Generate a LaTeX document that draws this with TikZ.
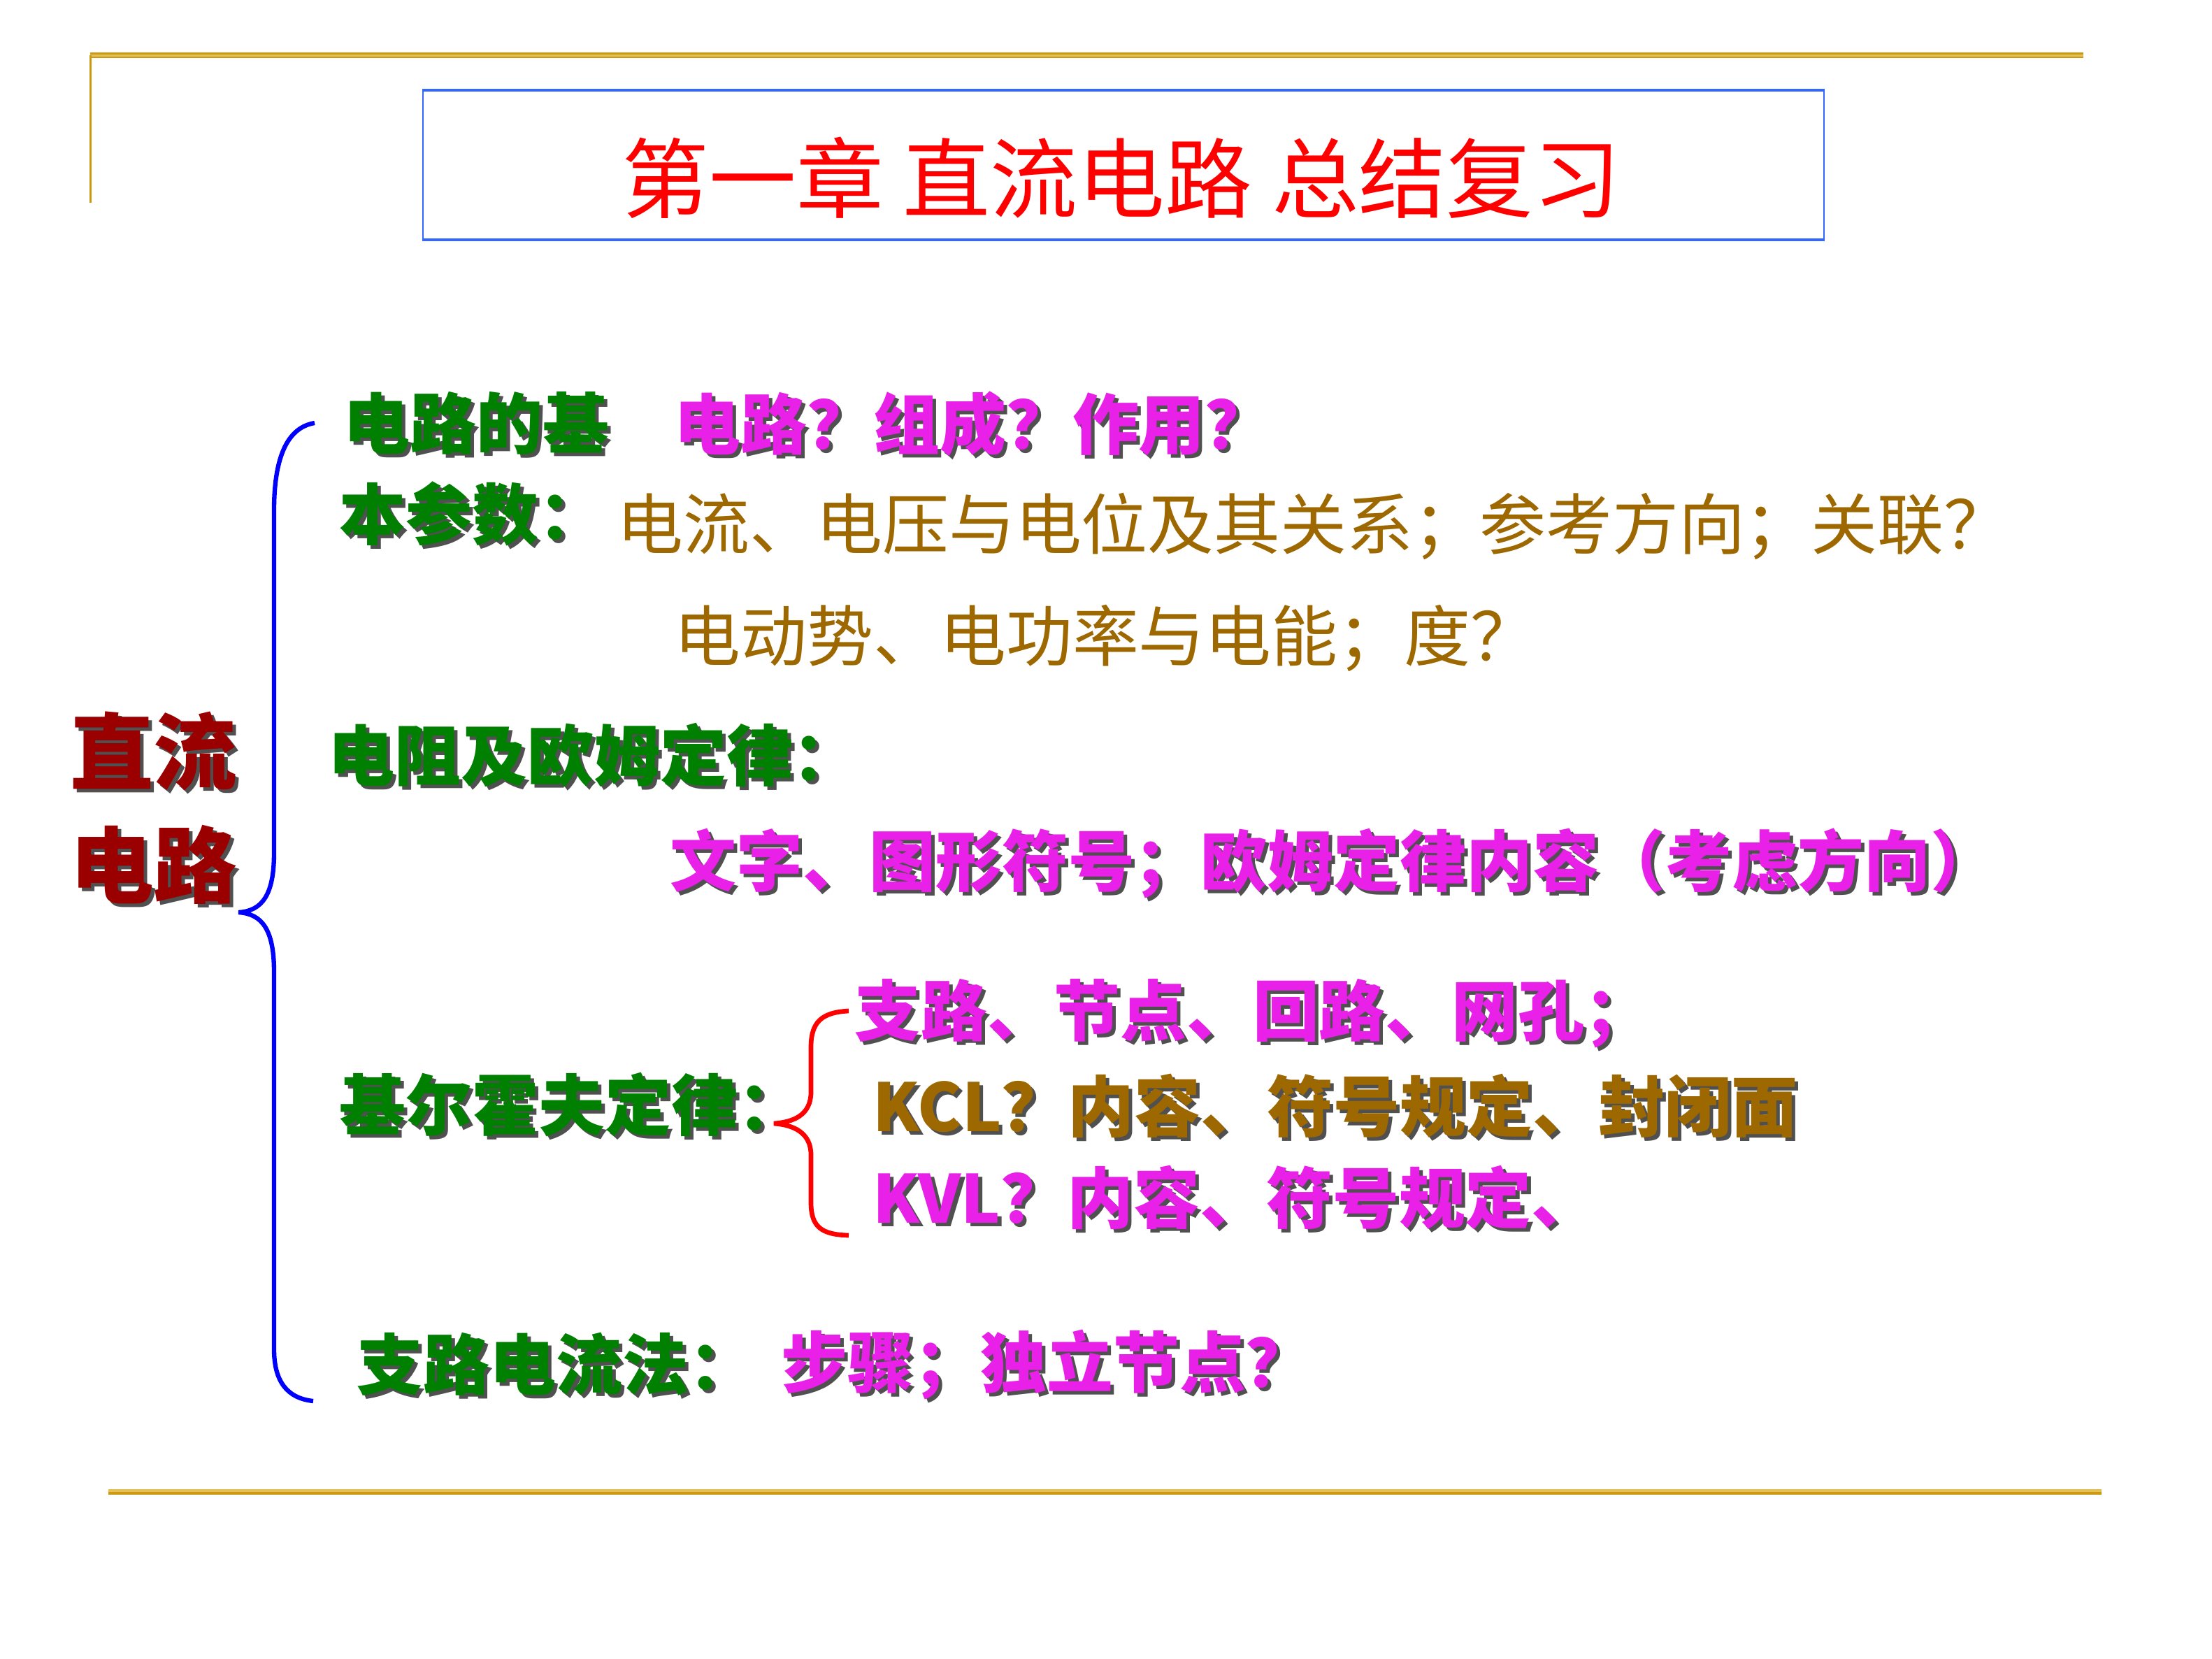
\documentclass[tikz,border=0pt]{standalone}
\usepackage{fontspec}
\setmainfont{Noto Sans CJK SC}
\definecolor{titlered}{RGB}{255,0,0}
\definecolor{headgreen}{RGB}{0,128,0}
\definecolor{askpink}{RGB}{232,32,232}
\definecolor{ochre}{RGB}{158,104,0}
\definecolor{bigred}{RGB}{155,0,0}
\definecolor{boxblue}{RGB}{51,102,255}
\definecolor{goldlight}{RGB}{228,192,88}
\definecolor{golddark}{RGB}{204,154,16}
\definecolor{shadowgray}{RGB}{80,80,80}

% text with a dark drop shadow behind it
\newcommand{\shtext}[1]{\rlap{\hspace{0.05cm}\raisebox{-0.05cm}{\textcolor{shadowgray}{#1}}}#1}

\begin{document}
\begin{tikzpicture}[
item/.style={anchor=west, inner sep=0pt, font=\fontsize{27}{32}\selectfont\bfseries},
head/.style={item, text=headgreen},
ask/.style={item, text=askpink},
law/.style={item, text=ochre},
plain/.style={anchor=west, inner sep=0pt, text=ochre, font=\fontsize{27}{32}\selectfont},
big/.style={inner sep=0pt, align=center, text=bigred, font=\fontsize{34}{46}\selectfont\bfseries},
bluebrace/.style={draw=blue, line width=1.8pt},
redbrace/.style={draw=red, line width=1.9pt},
]
\useasboundingbox (0,0) rectangle (31.64,-23.72);
\fill[white] (0,0) rectangle (31.64,-23.72);

% frame lines
\coordinate (tl) at (1.29,-0.79);
\coordinate (tr) at (29.80,-0.79);
\coordinate (vl) at (1.29,-2.90);
\coordinate (bl) at (1.55,-21.34);
\coordinate (br) at (30.06,-21.34);
\draw[golddark, line width=0.08cm] (tl) -- (tr);
\draw[goldlight, line width=0.03cm] (tl) -- (tr);
\draw[golddark, line width=0.03cm] (tl) -- (vl);
\draw[goldlight, line width=0.04cm] ([yshift=0.02cm]bl) -- ([yshift=0.02cm]br);
\draw[golddark, line width=0.04cm] ([yshift=-0.02cm]bl) -- ([yshift=-0.02cm]br);

% title
\node[draw=boxblue, line width=0.6pt, minimum width=20.04cm, minimum height=2.12cm] (titlebox) at (16.07,-2.36) {};
\draw[boxblue, line width=1.3pt] (titlebox.north west) -- (titlebox.north east);
\draw[boxblue, line width=1.3pt] (titlebox.south west) -- (titlebox.south east);
\node[text=titlered, inner sep=0pt, font=\fontsize{35.5}{40}\selectfont] (title) at (16.04,-2.54) {第一章 直流电路 总结复习};

% left topic and big brace
\node[big] (dc) at (2.20,-11.58) {\shtext{直流}\\\shtext{电路}};
\coordinate (bt) at (4.50,-6.05);
\coordinate (btip) at (3.41,-13.05);
\coordinate (bb) at (4.48,-20.04);
\draw[bluebrace] (bt) .. controls (4.08,-6.12) and (3.92,-6.60) .. (3.92,-7.30) -- (3.92,-12.20)
  .. controls (3.92,-12.80) and (3.75,-13.03) .. (btip)
  .. controls (3.75,-13.07) and (3.92,-13.30) .. (3.92,-13.90) -- (3.92,-19.30)
  .. controls (3.92,-19.75) and (4.10,-20.00) .. (bb);

% basic quantities
\node[head] (basic1) at (4.91,-6.08) {\shtext{电路的基}};
\node[head] (basic2) at (4.85,-7.37) {\shtext{本参数：}};
\node[ask] (basicq) at (9.64,-6.09) {\shtext{电路？组成？作用？}};
\node[plain] (quant1) at (8.82,-7.53) {电流、电压与电位及其关系；参考方向；关联？};
\node[plain] (quant2) at (9.64,-9.13) {电动势、电功率与电能；度？};

% resistance and Ohm
\node[head] (ohm) at (4.69,-10.83) {\shtext{电阻及欧姆定律：}};
\node[ask] (ohmq) at (9.58,-12.37) {\shtext{文字、图形符号；欧姆定律内容（考虑方向）}};

% Kirchhoff
\node[head] (kirch) at (4.85,-15.82) {\shtext{基尔霍夫定律：}};
\coordinate (rt) at (12.14,-14.46);
\coordinate (rtip) at (11.07,-16.07);
\coordinate (rb) at (12.14,-17.67);
\draw[redbrace] (rt) .. controls (11.75,-14.48) and (11.60,-14.62) .. (11.60,-14.98) -- (11.60,-15.62)
  .. controls (11.60,-15.95) and (11.35,-16.05) .. (rtip)
  .. controls (11.35,-16.09) and (11.60,-16.20) .. (11.60,-16.52) -- (11.60,-17.20)
  .. controls (11.60,-17.55) and (11.75,-17.66) .. (rb);
\node[ask] (terms) at (12.22,-14.52) {\shtext{支路、节点、回路、网孔；}};
\node[law] (kcl) at (12.48,-15.84) {\shtext{KCL？内容、符号规定、封闭面}};
\node[ask] (kvl) at (12.48,-17.15) {\shtext{KVL？内容、符号规定、}};

% branch current method
\node[head] (branch) at (5.10,-19.54) {\shtext{支路电流法：}};
\node[ask] (branchq) at (11.17,-19.54) {\shtext{步骤；独立节点？}};
\end{tikzpicture}
\end{document}
